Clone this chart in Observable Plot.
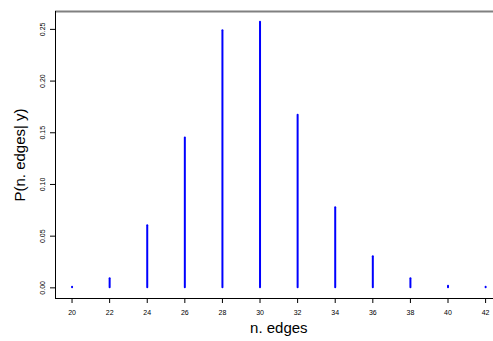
<!DOCTYPE html>
<html>
<head>
<meta charset="utf-8">
<script src="https://cdn.jsdelivr.net/npm/d3@7"></script>
<script src="https://cdn.jsdelivr.net/npm/@observablehq/plot@0.6"></script>
<style>
  html, body { margin: 0; padding: 0; background: #fff; }
  #chart svg { display: block; }
</style>
</head>
<body>
<div id="chart"></div>
<script>
const edges = [20, 22, 24, 26, 28, 30, 32, 34, 36, 38, 40, 42];
const probs = [0.0005, 0.0087, 0.060, 0.145, 0.2486, 0.257, 0.167, 0.0774, 0.030, 0.0087, 0.0015, 0.0005];
const xTicks = [20, 22, 24, 26, 28, 30, 32, 34, 36, 38, 40, 42];
const yTicks = [0, 0.05, 0.10, 0.15, 0.20, 0.25];
const yTickLabels = ["0.00", "0.05", "0.10", "0.15", "0.20", "0.25"];
const xTitle = "n. edges";
const yTitle = "P(n. edges| y)";

const data = edges.map((e, i) => ({n: e, p: probs[i]}));
const yTickData = yTicks.map((v, i) => ({v, label: yTickLabels[i]}));
const xDom = [19.12, 42.42];
const yDom = [-0.0103, 0.2673];

const chart = Plot.plot({
  width: 493,
  height: 341,
  marginLeft: 55,
  marginRight: 0,
  marginTop: 11,
  marginBottom: 43,
  style: {fontFamily: "'Liberation Sans', Arial, Helvetica, sans-serif", background: "#fff", color: "#000"},
  x: {domain: xDom, axis: null},
  y: {domain: yDom, axis: null},
  marks: [
    Plot.ruleY([yDom[1]], {stroke: "#808080", strokeWidth: 2}),
    Plot.ruleX([xDom[0]], {stroke: "#000", strokeWidth: 1}),
    Plot.ruleY([yDom[0]], {stroke: "#000", strokeWidth: 1}),
    Plot.axisX({ticks: xTicks, tickSize: 5, tickPadding: 7, fontSize: 7, label: null, tickFormat: d => String(d)}),
    Plot.axisY({ticks: yTicks, tickSize: 5, tickFormat: () => "", label: null}),
    Plot.text(yTickData, {y: "v", text: "label", frameAnchor: "left", dx: -13, rotate: -90, fontSize: 7, textAnchor: "middle", lineAnchor: "middle"}),
    Plot.ruleX(data, {x: "n", y1: 0, y2: "p", stroke: "#0000ff", strokeWidth: 2, strokeLinecap: "round"}),
    Plot.text([xTitle], {x: () => (19.12 + 42.88) / 2, text: d => d, frameAnchor: "bottom", dy: 30, fontSize: 15, lineAnchor: "middle", textAnchor: "middle"}),
    Plot.text([yTitle], {y: () => (yDom[0] + yDom[1]) / 2, text: d => d, frameAnchor: "left", dx: -35, rotate: -90, fontSize: 15, lineAnchor: "middle", textAnchor: "middle"})
  ]
});
document.getElementById("chart").appendChild(chart);
</script>
</body>
</html>
